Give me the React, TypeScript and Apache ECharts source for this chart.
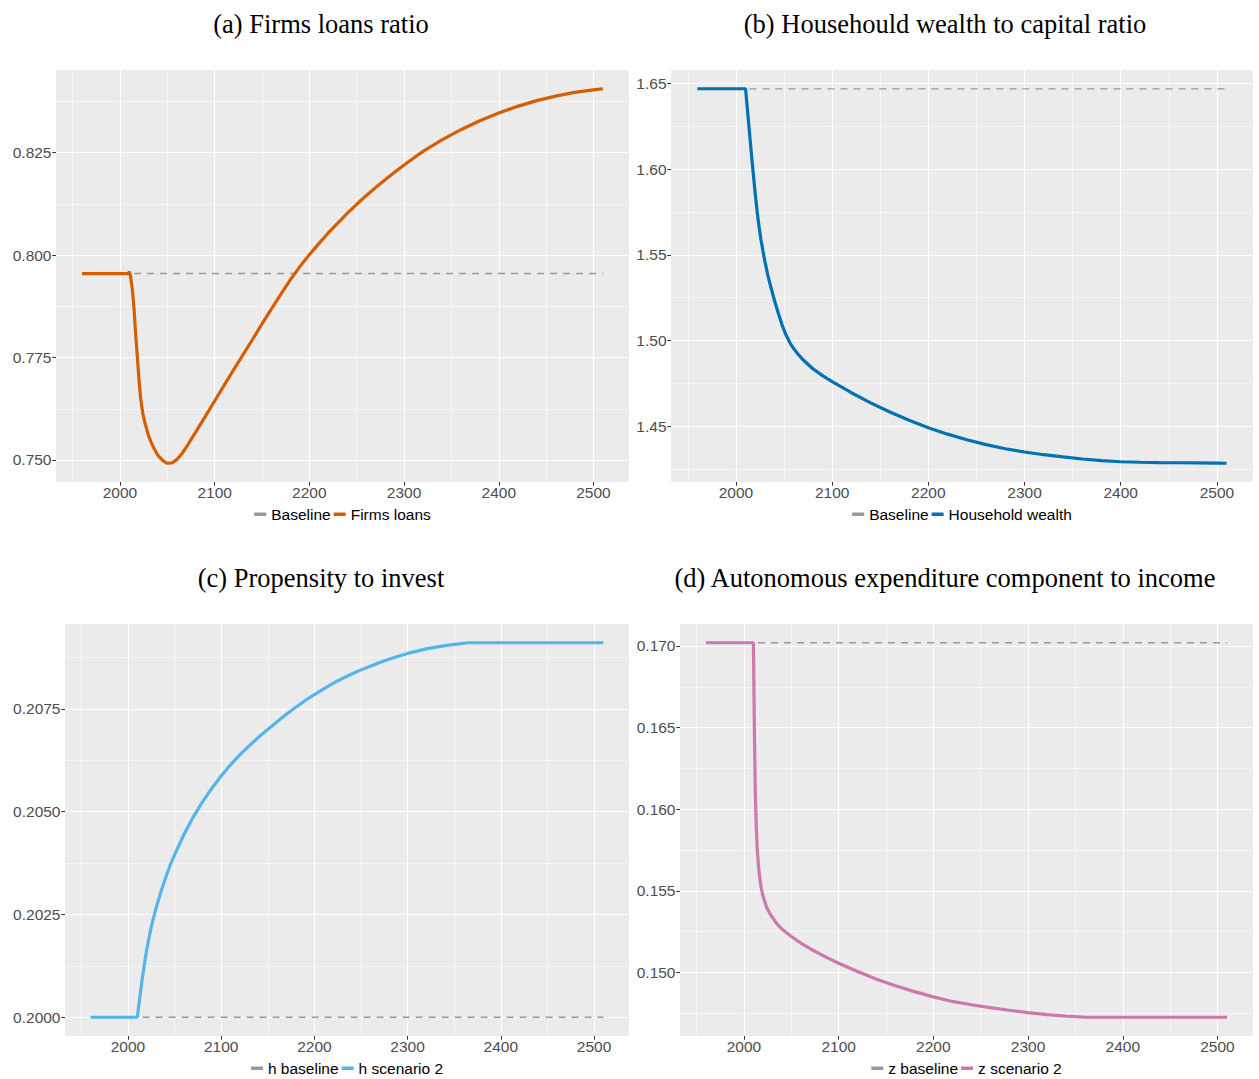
import React, { useEffect, useRef } from "react";
import * as echarts from "echarts";

// ---------- data ----------
const xTicks = [2000, 2100, 2200, 2300, 2400, 2500];

const loansTicks = [0.75, 0.775, 0.8, 0.825];
const wealthTicks = [1.45, 1.5, 1.55, 1.6, 1.65];
const investTicks = [0.2, 0.2025, 0.205, 0.2075];
const autonomousTicks = [0.15, 0.155, 0.16, 0.165, 0.17];

const loansBaseline: [number, number][] = [[1960, 0.7955], [2510, 0.7955]];
const firmsLoans: [number, number][] = [
  [1960, 0.7955], [1980, 0.7955], [2000, 0.7955], [2009, 0.7955], [2010, 0.796], [2011, 0.795],
  [2012, 0.7935], [2013, 0.7918], [2014, 0.7895], [2015, 0.7866], [2016, 0.7828], [2017, 0.7795],
  [2018, 0.7764], [2019, 0.7732], [2020, 0.77], [2021, 0.7672], [2022, 0.7648], [2024, 0.7616],
  [2026, 0.7594], [2028, 0.7577], [2030, 0.7561], [2033, 0.7543], [2036, 0.7528], [2040, 0.7512],
  [2045, 0.7499], [2050, 0.7492], [2055, 0.7493], [2060, 0.7501], [2065, 0.7514], [2070, 0.7531],
  [2080, 0.7568], [2090, 0.7606], [2100, 0.7644], [2110, 0.7682], [2120, 0.772], [2130, 0.7757],
  [2140, 0.7794], [2150, 0.7832], [2160, 0.7869], [2170, 0.7905], [2180, 0.794], [2190, 0.7972],
  [2200, 0.8001], [2210, 0.8028], [2220, 0.8054], [2230, 0.8078], [2240, 0.8102], [2250, 0.8124],
  [2260, 0.8145], [2270, 0.8165], [2280, 0.8184], [2290, 0.8202], [2300, 0.822], [2320, 0.8253],
  [2340, 0.8281], [2360, 0.8306], [2380, 0.8328], [2400, 0.8347], [2420, 0.8363], [2440, 0.8377],
  [2460, 0.8388], [2480, 0.8397], [2500, 0.8403], [2510, 0.8406],
];

const wealthBaseline: [number, number][] = [[1960, 1.6469], [2510, 1.6469]];
const householdWealth: [number, number][] = [
  [1960, 1.647], [2009, 1.647], [2010, 1.647], [2012, 1.6345], [2014, 1.622], [2016, 1.6095],
  [2018, 1.5975], [2020, 1.586], [2022, 1.5755], [2024, 1.5665], [2026, 1.559], [2028, 1.5525],
  [2030, 1.5465], [2033, 1.5385], [2036, 1.5318], [2040, 1.5235], [2044, 1.516], [2048, 1.509],
  [2052, 1.5033], [2056, 1.4988], [2060, 1.4953], [2065, 1.4917], [2070, 1.4886], [2080, 1.4835],
  [2090, 1.4795], [2100, 1.476], [2120, 1.4695], [2140, 1.4636], [2160, 1.4582], [2180, 1.4534],
  [2200, 1.4491], [2220, 1.4453], [2240, 1.442], [2260, 1.4392], [2280, 1.4368], [2300, 1.4349],
  [2320, 1.4333], [2340, 1.432], [2360, 1.4308], [2380, 1.4298], [2400, 1.4292], [2420, 1.4289],
  [2440, 1.4287], [2460, 1.4286], [2480, 1.4285], [2500, 1.4284], [2510, 1.4283],
];

const hBaseline: [number, number][] = [[1960, 0.2], [2510, 0.2]];
const hScenario2: [number, number][] = [
  [1960, 0.2], [2009, 0.2], [2010, 0.2], [2012, 0.20035], [2015, 0.20088], [2018, 0.20133],
  [2020, 0.20163], [2025, 0.2022], [2030, 0.20264], [2035, 0.20302], [2040, 0.20337], [2045, 0.20368],
  [2050, 0.20395], [2060, 0.20444], [2070, 0.20487], [2080, 0.20524], [2090, 0.20557], [2100, 0.20587],
  [2110, 0.20614], [2120, 0.20638], [2130, 0.2066], [2140, 0.20681], [2150, 0.207], [2160, 0.20719],
  [2170, 0.20737], [2180, 0.20754], [2190, 0.2077], [2200, 0.20785], [2210, 0.20799], [2220, 0.20812],
  [2230, 0.20824], [2240, 0.20835], [2250, 0.20845], [2260, 0.20854], [2270, 0.20863], [2280, 0.20871],
  [2290, 0.20878], [2300, 0.20885], [2320, 0.20896], [2340, 0.20904], [2355, 0.20908], [2365, 0.20911],
  [2400, 0.20911], [2450, 0.20911], [2510, 0.20911],
];

const zBaseline: [number, number][] = [[1960, 0.1702], [2510, 0.1702]];
const zScenario2: [number, number][] = [
  [1960, 0.1702], [2009, 0.1702], [2010, 0.1702], [2011, 0.165], [2012, 0.161], [2013, 0.159],
  [2014, 0.1576], [2015, 0.1568], [2016, 0.15615], [2018, 0.15525], [2020, 0.1547], [2024, 0.15398],
  [2028, 0.15355], [2034, 0.15303], [2040, 0.15266], [2050, 0.1522], [2060, 0.1518], [2070, 0.15145],
  [2080, 0.15113], [2090, 0.15084], [2100, 0.15056], [2120, 0.15005], [2140, 0.14958], [2160, 0.14918],
  [2180, 0.14882], [2200, 0.1485], [2220, 0.14822], [2240, 0.14802], [2260, 0.14784], [2280, 0.14768],
  [2300, 0.14753], [2320, 0.14741], [2340, 0.14732], [2362, 0.14725], [2400, 0.14725], [2450, 0.14725],
  [2510, 0.14725],
];

// ---------- layout / style ----------
const SANS = '"Liberation Sans", Arial, Helvetica, sans-serif';
const SERIF = '"Liberation Serif", "Times New Roman", serif';
const LABEL_SIZE = 15.5;

type Panel = {
  title: string;
  titleX: number;
  titleY: number;
  grid: { left: number; top: number; width: number; height: number };
  legendY: number;
  yTicks: number[];
  yStep: number;
  yDec: number;
  baseName: string;
  mainName: string;
  base: [number, number][];
  main: [number, number][];
  color: string;
};

const panels: Panel[] = [
  {
    title: "(a) Firms loans ratio", titleX: 321, titleY: 24.4,
    grid: { left: 56, top: 70, width: 573, height: 412 }, legendY: 514,
    yTicks: loansTicks, yStep: 0.025, yDec: 3,
    baseName: "Baseline", mainName: "Firms loans", base: loansBaseline, main: firmsLoans, color: "#D55E00",
  },
  {
    title: "(b) Househould wealth to capital ratio", titleX: 945, titleY: 24.4,
    grid: { left: 671, top: 70, width: 582, height: 412 }, legendY: 514,
    yTicks: wealthTicks, yStep: 0.05, yDec: 2,
    baseName: "Baseline", mainName: "Household wealth", base: wealthBaseline, main: householdWealth, color: "#0072B2",
  },
  {
    title: "(c) Propensity to invest", titleX: 321, titleY: 578.4,
    grid: { left: 65, top: 624, width: 564, height: 412 }, legendY: 1068,
    yTicks: investTicks, yStep: 0.0025, yDec: 4,
    baseName: "h baseline", mainName: "h scenario 2", base: hBaseline, main: hScenario2, color: "#56B4E9",
  },
  {
    title: "(d) Autonomous expenditure component to income", titleX: 945, titleY: 578.4,
    grid: { left: 680, top: 624, width: 573, height: 412 }, legendY: 1068,
    yTicks: autonomousTicks, yStep: 0.005, yDec: 3,
    baseName: "z baseline", mainName: "z scenario 2", base: zBaseline, main: zScenario2, color: "#CC79A7",
  },
];

function expand(values: number[]): [number, number] {
  const lo = Math.min(...values);
  const hi = Math.max(...values);
  const pad = (hi - lo) * 0.05;
  return [lo - pad, hi + pad];
}

function textWidth(text: string, size: number, family: string): number {
  const ctx = document.createElement("canvas").getContext("2d");
  if (!ctx) return text.length * size * 0.5;
  ctx.font = `${size}px ${family}`;
  return ctx.measureText(text).width;
}

function buildOption() {
  const grids: any[] = [];
  const xAxes: any[] = [];
  const yAxes: any[] = [];
  const series: any[] = [];
  const legends: any[] = [];
  const graphics: any[] = [];

  const ITEM_W = 12;
  const ITEM_H = 3.5;
  const ITEM_GAP = 3;

  panels.forEach((p, i) => {
    grids.push({
      left: p.grid.left, top: p.grid.top, width: p.grid.width, height: p.grid.height,
      show: true, backgroundColor: "#EBEBEB", borderWidth: 0, containLabel: false,
    });
    const allX = [...p.base, ...p.main].map((d) => d[0]);
    const allY = [...p.base, ...p.main].map((d) => d[1]);
    const [xMin, xMax] = expand(allX);
    const [yMin, yMax] = expand(allY);

    xAxes.push({
      type: "value", gridIndex: i, min: xMin, max: xMax, minInterval: 100, maxInterval: 100,
      axisLine: { show: false },
      axisTick: { show: true, length: 3.7, customValues: xTicks, lineStyle: { color: "#333333", width: 1 } },
      axisLabel: {
        customValues: xTicks, color: "#4D4D4D", fontSize: LABEL_SIZE, fontFamily: SANS, margin: 2.5,
        formatter: (v: number) => String(Math.round(v)),
      },
      splitLine: { show: true, lineStyle: { color: "#FFFFFF", width: 1.1 } },
      minorTick: { show: false, splitNumber: 2 },
      minorSplitLine: { show: true, lineStyle: { color: "#FFFFFF", width: 0.55 } },
    });
    yAxes.push({
      type: "value", gridIndex: i, min: yMin, max: yMax, minInterval: p.yStep, maxInterval: p.yStep,
      axisLine: { show: false },
      axisTick: { show: true, length: 3.7, customValues: p.yTicks, lineStyle: { color: "#333333", width: 1 } },
      axisLabel: {
        customValues: p.yTicks, color: "#4D4D4D", fontSize: LABEL_SIZE, fontFamily: SANS, margin: 4.5,
        formatter: (v: number) => v.toFixed(p.yDec),
      },
      splitLine: { show: true, lineStyle: { color: "#FFFFFF", width: 1.1 } },
      minorTick: { show: false, splitNumber: 2 },
      minorSplitLine: { show: true, lineStyle: { color: "#FFFFFF", width: 0.55 } },
    });

    series.push({
      name: p.baseName, type: "line", xAxisIndex: i, yAxisIndex: i, data: p.base,
      showSymbol: false, symbol: "none", color: "#999999",
      lineStyle: { color: "#999999", width: 1.4, type: [7, 6] },
      z: 2,
    });
    series.push({
      name: p.mainName, type: "line", xAxisIndex: i, yAxisIndex: i, data: p.main,
      showSymbol: false, symbol: "none", color: p.color,
      lineStyle: { color: p.color, width: 3.2, type: "solid" },
      z: 3,
    });

    const w =
      ITEM_W + 5 + textWidth(p.baseName, LABEL_SIZE, SANS) + ITEM_GAP +
      ITEM_W + 5 + textWidth(p.mainName, LABEL_SIZE, SANS);
    const center = p.grid.left + p.grid.width / 2;
    legends.push({
      data: [
        { name: p.baseName, itemStyle: { color: "#999999" } },
        { name: p.mainName, itemStyle: { color: p.color } },
      ],
      left: center - w / 2,
      top: p.legendY - LABEL_SIZE / 2,
      orient: "horizontal",
      icon: "rect",
      itemWidth: ITEM_W,
      itemHeight: ITEM_H,
      itemGap: ITEM_GAP,
      padding: 0,
      selectedMode: false,
      itemStyle: { borderWidth: 0 },
      textStyle: { fontSize: LABEL_SIZE, color: "#000000", fontFamily: SANS },
    });

    graphics.push({
      type: "text",
      x: p.titleX,
      y: p.titleY,
      style: {
        text: p.title,
        fontSize: 26.5,
        fontFamily: SERIF,
        fill: "#000000",
        align: "center",
        verticalAlign: "middle",
        textAlign: "center",
        textVerticalAlign: "middle",
      },
    });
  });

  return {
    animation: false,
    backgroundColor: "#FFFFFF",
    grid: grids,
    xAxis: xAxes,
    yAxis: yAxes,
    series,
    legend: legends,
    graphic: graphics,
  };
}

export default function App() {
  const ref = useRef<HTMLDivElement>(null);
  useEffect(() => {
    document.body.style.margin = "0";
    if (!ref.current) return;
    const chart = echarts.init(ref.current, null, { renderer: "svg" });
    chart.setOption(buildOption() as any);
    return () => {
      chart.dispose();
    };
  }, []);
  return (
    <div
      ref={ref}
      style={{ position: "absolute", left: 0, top: 0, width: 1259, height: 1079, background: "#FFFFFF" }}
    />
  );
}
